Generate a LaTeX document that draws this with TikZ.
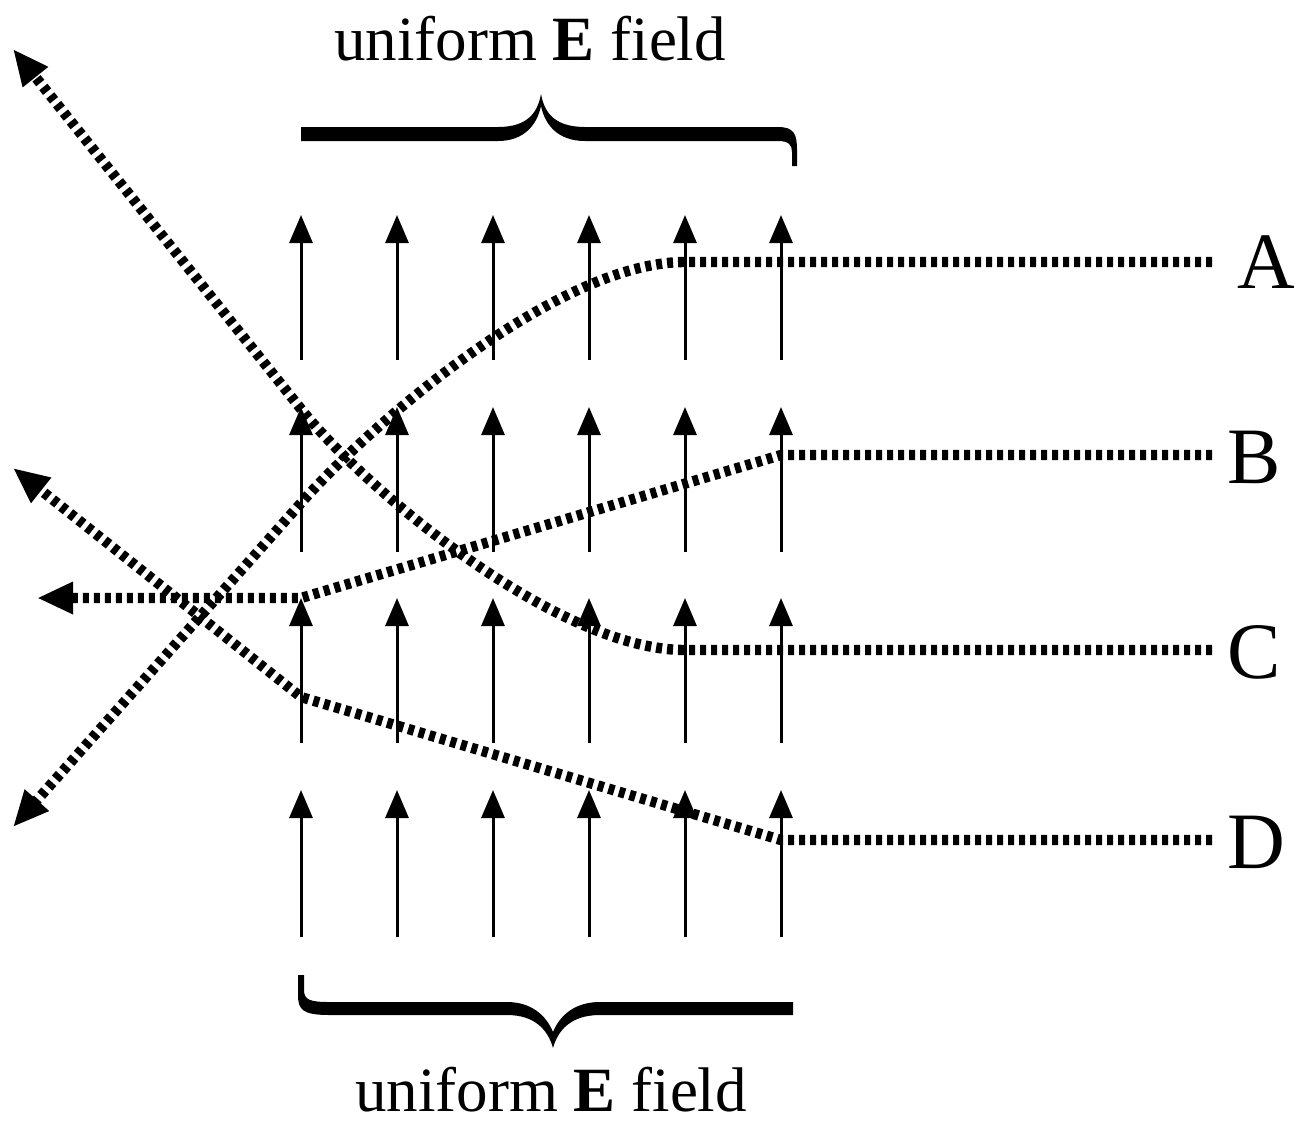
\documentclass[tikz,border=0pt]{standalone}
\usepackage{fontspec}
\setmainfont{Liberation Serif}
\usetikzlibrary{arrows.meta}
\begin{document}
\begin{tikzpicture}[x=0.5pt,y=-0.5pt,
  fieldarrow/.style={line width=1.5pt,-{Triangle[length=14pt,width=11.5pt]}},
  traj/.style={line width=5.2pt,dash pattern=on 3pt off 2.5pt},
  trajtip/.style={-{Triangle[length=18pt,width=15pt]}},
  bracefill/.style={fill=black,draw=none},
  lbl/.style={font=\fontsize{40}{44}\selectfont,inner sep=0pt,anchor=west},
  fieldcaption/.style={font=\fontsize{31.5}{36}\selectfont,inner sep=0pt,anchor=base}]
\useasboundingbox (0,0) rectangle (1294,1126);

% field arrows
\foreach \cx in {301,397,493,589,685,781}{
  \foreach \tipy/\boty in {215/360,407/552,598/743,790/937}{
    \draw[fieldarrow] (\cx,\boty) -- (\cx,\tipy);
  }
}

% key points of trajectories
\coordinate (aR) at (1212,262); \coordinate (aK) at (685,262);
\coordinate (aM) at (301,503);  \coordinate (aT) at (13,827);
\coordinate (bR) at (1212,455); \coordinate (bK) at (781,455);
\coordinate (bM) at (301,598);  \coordinate (bT) at (37,598);
\coordinate (cR) at (1212,650); \coordinate (cK) at (685,650);
\coordinate (cM) at (301,409);  \coordinate (cT) at (13,49);
\coordinate (dR) at (1212,840); \coordinate (dK) at (781,840);
\coordinate (dM) at (301,697);  \coordinate (dT) at (13,468);

% trajectories
\draw[traj,trajtip] (aR) -- (aK) .. controls (556,262) and (367,428) .. (aM) -- (aT);
\draw[traj,trajtip] (bR) -- (bK) -- (bM) -- (bT);
\draw[traj,trajtip] (cR) -- (cK) .. controls (556,650) and (363,487) .. (cM) -- (cT);
\draw[traj,trajtip] (dR) -- (dK) -- (dM) -- (dT);

% labels
\node[lbl] (labA) at (1237,262) {A};
\node[lbl] (labB) at (1227,457) {B};
\node[lbl] (labC) at (1227,652) {C};
\node[lbl] (labD) at (1227,842) {D};

% top brace
\fill[bracefill] (301,127) -- (498,127) .. controls (530,127) and (538,110) .. (541,94)
  .. controls (544,110) and (552,127) .. (585,127) -- (778,127)
  .. controls (794,127) and (797,134) .. (797,150) -- (797,166) -- (792,166) -- (792,152)
  .. controls (792,145) and (789,141) .. (778,141) -- (585,141)
  .. controls (558,141) and (545,125) .. (541,106)
  .. controls (537,125) and (524,141) .. (498,141) -- (301,141) -- cycle;
\node[fieldcaption] (capTop) at (530,60) {uniform \textbf{E} field};

% bottom brace
\fill[bracefill] (298,975) -- (298,995) .. controls (298,1010) and (303,1015) .. (330,1015)
  -- (507,1015) .. controls (535,1015) and (548,1030) .. (553,1048)
  .. controls (558,1030) and (571,1015) .. (600,1015) -- (793,1015) -- (793,1002)
  -- (600,1002) .. controls (575,1002) and (560,1015) .. (553,1032)
  .. controls (546,1015) and (531,1002) .. (507,1002) -- (330,1002)
  .. controls (310,1002) and (304,1000) .. (304,990) -- (304,975) -- cycle;
\node[fieldcaption] (capBot) at (551,1111) {uniform \textbf{E} field};
\end{tikzpicture}
\end{document}
